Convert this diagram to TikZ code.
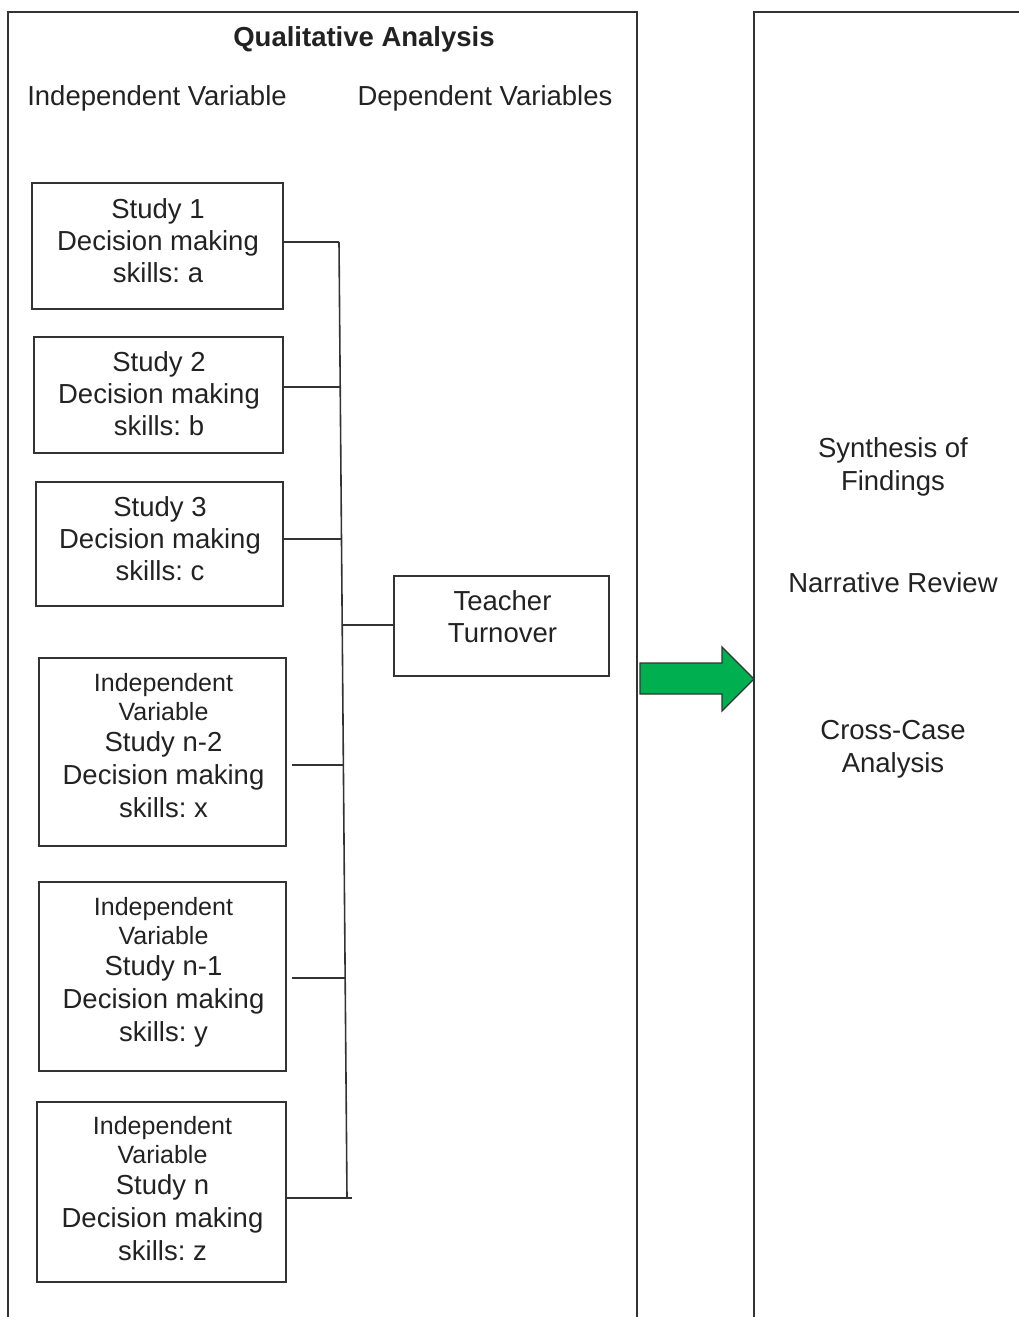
\documentclass[tikz,border=0pt]{standalone}
\usepackage{fontspec}
\setmainfont{Liberation Sans}
\usetikzlibrary{calc}
\frenchspacing
\definecolor{arrowgreen}{HTML}{00B050}
\definecolor{ink}{HTML}{222222}
\definecolor{linec}{HTML}{333333}
\tikzset{
  frame/.style={draw=linec, line width=1.6pt},
  studybox/.style={draw=linec, line width=1.6pt, inner sep=0pt},
  boxtext/.style={align=center, text=ink, inner sep=0pt, font=\frenchspacing\fontsize{27.5}{32}\selectfont},
  ivtext/.style={boxtext, font=\frenchspacing\fontsize{25}{29}\selectfont},
  conn/.style={draw=linec, line width=1.6pt},
  lbl/.style={text=ink, align=center, inner sep=0pt, font=\fontsize{27.5}{33}\selectfont},
  hdr/.style={text=ink, align=center, inner sep=0pt, font=\fontsize{27.5}{33}\selectfont\bfseries},
}
\newcommand{\bigtxt}{\fontsize{27.5}{33}\selectfont}
\begin{document}
\begin{tikzpicture}[x=1pt,y=-1pt]
\useasboundingbox (0,0) rectangle (1019,1317);
% frames
\draw[frame] (8,1325) -- (8,12) -- (637,12) -- (637,1325);
\draw[frame] (754,1325) -- (754,12) -- (1030,12);
% headers
\node[hdr] (title) at (364,39) {Qualitative Analysis};
\node[lbl] (ivh) at (157,98) {Independent Variable};
\node[lbl] (dvh) at (485,98) {Dependent Variables};
% study boxes
\node[studybox, minimum width=251, minimum height=126] (s1) at (157.5,246) {};
\node[studybox, minimum width=249, minimum height=116] (s2) at (158.5,395) {};
\node[studybox, minimum width=247, minimum height=124] (s3) at (159.5,544) {};
\node[studybox, minimum width=247, minimum height=188] (s4) at (162.5,752) {};
\node[studybox, minimum width=247, minimum height=189] (s5) at (162.5,976.5) {};
\node[studybox, minimum width=249, minimum height=180] (s6) at (161.5,1192) {};
\node[studybox, minimum width=215, minimum height=100] (tt) at (501.5,626) {};
% box texts
\node[boxtext] (s1t) at (158,241) {Study 1\\Decision making\\skills: a};
\node[boxtext] (s2t) at (159,394) {Study 2\\Decision making\\skills: b};
\node[boxtext] (s3t) at (160,539) {Study 3\\Decision making\\skills: c};
\node[ivtext] (s4t) at (163.5,746) {Independent\\Variable\\[2pt]\bigtxt Study n-2\\[4pt]\bigtxt Decision making\\[4pt]\bigtxt skills: x};
\node[ivtext] (s5t) at (163.5,972.5) {Independent\\Variable\\[2pt]\bigtxt Study n-1\\[4pt]\bigtxt Decision making\\[4pt]\bigtxt skills: y};
\node[ivtext] (s6t) at (162.5,1189) {Independent\\Variable\\[2pt]\bigtxt Study n\\[4pt]\bigtxt Decision making\\[4pt]\bigtxt skills: z};
\node[boxtext] (ttt) at (502.5,617) {Teacher\\Turnover};
% trunk line
\coordinate (vtop) at (339,242);
\coordinate (vbot) at (347,1198);
\coordinate (j2) at ($(vtop)!0.1517!(vbot)$);
\coordinate (j3) at ($(vtop)!0.3107!(vbot)$);
\coordinate (jt) at ($(vtop)!0.4006!(vbot)$);
\coordinate (j4) at ($(vtop)!0.5471!(vbot)$);
\coordinate (j5) at ($(vtop)!0.7699!(vbot)$);
\coordinate (e6) at (352,1198);
\draw[conn] (vtop) -- (vbot);
\draw[conn] (s1.east |- vtop) -- (vtop);
\draw[conn] (s2.east |- j2) -- (j2);
\draw[conn] (s3.east |- j3) -- ([xshift=1pt]j3);
\draw[conn, shorten <=5pt] (s4.east |- j4) -- (j4);
\draw[conn, shorten <=5pt] (s5.east |- j5) -- (j5);
\draw[conn] (s6.east |- e6) -- (e6);
\draw[conn] (jt) -- (tt.west |- jt);
% right panel text
\node[lbl] (syn) at (893,467) {Synthesis of\\Findings};
\node[lbl] (nar) at (893,583) {Narrative Review};
\node[lbl] (ccase) at (893,749) {Cross-Case\\Analysis};
% block arrow
\draw[fill=arrowgreen, draw=black!80, line width=1.3pt, line join=miter]
  (640,663) -- (722,663) -- (722,647) -- (754,679) -- (722,711) -- (722,694) -- (640,694) -- cycle;
\end{tikzpicture}
\end{document}
